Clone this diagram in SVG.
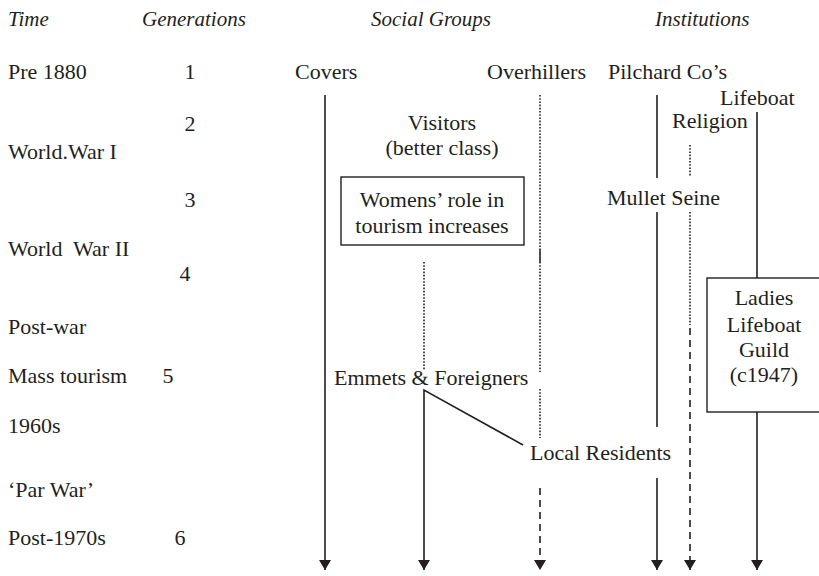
<svg xmlns="http://www.w3.org/2000/svg" width="819" height="576" viewBox="0 0 819 576">
<style>
text{font-family:"Liberation Serif","Times New Roman",serif;font-size:22px;fill:#231f20}
.h{font-style:italic;font-size:21px}
.m{text-anchor:middle}
.ln{fill:none;stroke:#231f20;stroke-width:1.6}
.dot{stroke-dasharray:1.6 1.6}
.dash{stroke-dasharray:7 5}
.box{fill:none;stroke:#231f20;stroke-width:1.4}
</style>
<defs>
<marker id="ah" markerUnits="userSpaceOnUse" viewBox="0 0 10 12" markerWidth="10" markerHeight="12" refX="10" refY="6" orient="auto">
<path d="M0,0 L10,6 L0,12 z" fill="#231f20"/>
</marker>
</defs>
<g id="headers">
<text class="h" x="8" y="26">Time</text>
<text class="h" x="142" y="26">Generations</text>
<text class="h" x="371" y="26">Social Groups</text>
<text class="h" x="655" y="26">Institutions</text>
</g>
<g id="time">
<text x="8" y="79">Pre 1880</text>
<text x="8" y="159">World.War I</text>
<text x="8" y="256" xml:space="preserve">World  War II</text>
<text x="8" y="334">Post-war</text>
<text x="8" y="383">Mass tourism</text>
<text x="8" y="433">1960s</text>
<text x="8" y="497">‘Par War’</text>
<text x="8" y="545">Post-1970s</text>
</g>
<g id="generations">
<text class="m" x="190" y="79">1</text>
<text class="m" x="190" y="131">2</text>
<text class="m" x="190" y="207">3</text>
<text class="m" x="185" y="281">4</text>
<text class="m" x="168" y="383">5</text>
<text class="m" x="180" y="545">6</text>
</g>
<g id="connectors">
<path class="ln" d="M325,95 V570" marker-end="url(#ah)"/>
<path class="ln dot" d="M540,95 V249"/>
<path class="ln" d="M540,249 V262"/>
<path class="ln dot" d="M540,262 V372"/>
<path class="ln dot" d="M540,389 V438"/>
<path class="ln dash" d="M540,488 V570" marker-end="url(#ah)"/>
<path class="ln dot" d="M424,262 V370"/>
<path class="ln" d="M523,445 L424,390 V570" marker-end="url(#ah)"/>
<path class="ln" d="M657,95 V178"/>
<path class="ln" d="M657,212 V427"/>
<path class="ln" d="M657,478 V570" marker-end="url(#ah)"/>
<path class="ln dot" d="M690,145 V177"/>
<path class="ln dot" d="M690,212 V325"/>
<path class="ln dash" d="M690,328 V570" marker-end="url(#ah)"/>
<path class="ln" d="M757,112 V278"/>
<path class="ln" d="M757,412 V570" marker-end="url(#ah)"/>
</g>
<g id="covers"><text x="295" y="79">Covers</text></g>
<g id="overhillers"><text x="487" y="79">Overhillers</text></g>
<g id="pilchard"><text x="608" y="79">Pilchard Co’s</text></g>
<g id="lifeboat"><text x="720" y="105">Lifeboat</text></g>
<g id="religion"><text x="672" y="128">Religion</text></g>
<g id="visitors">
<text class="m" x="442" y="130">Visitors</text>
<text class="m" x="442" y="155">(better class)</text>
</g>
<g id="womens">
<rect class="box" x="341" y="177" width="183" height="68"/>
<text class="m" x="432" y="207">Womens’ role in</text>
<text class="m" x="432" y="233">tourism increases</text>
</g>
<g id="mullet"><text x="607" y="205">Mullet Seine</text></g>
<g id="emmets"><text x="334" y="385">Emmets &amp; Foreigners</text></g>
<g id="local"><text x="530" y="460">Local Residents</text></g>
<g id="ladies">
<rect class="box" x="707" y="278" width="116" height="134"/>
<text class="m" x="764" y="305">Ladies</text>
<text class="m" x="764" y="332">Lifeboat</text>
<text class="m" x="764" y="357">Guild</text>
<text class="m" x="764" y="382">(c1947)</text>
</g>
</svg>
